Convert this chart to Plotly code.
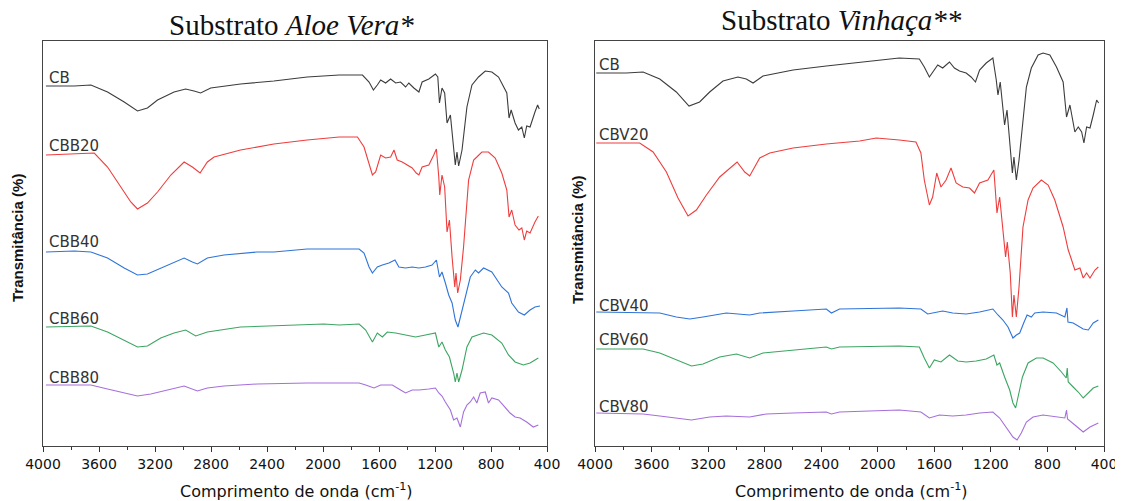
import plotly.graph_objects as go
from plotly.subplots import make_subplots

# ---------------- Data (transmittance, arbitrary offset units) ----------------
# Panel A: Substrato Aloe Vera
A_CB_wn = [3979, 3777, 3658, 3539, 3420, 3325, 3254, 3182, 3064, 2981, 2921, 2874, 2802, 2589, 2351, 2113, 1884, 1718, 1671, 1640, 1612, 1588, 1553, 1517, 1481, 1446, 1410, 1387, 1351, 1315, 1292, 1244, 1197, 1180, 1168, 1150, 1131, 1114, 1090, 1067, 1055, 1043, 1031, 1007, 972, 936, 889, 841, 794, 746, 711, 687, 671, 656, 628, 604, 580, 562, 545, 521, 486, 467, 455]
A_CB_t = [360, 360, 361, 354, 344, 335, 338, 346, 354, 357, 355, 353, 358, 362, 365, 369, 371, 371, 364, 356, 361, 366, 363, 367, 363, 364, 359, 363, 358, 354, 364, 367, 372, 369, 343, 358, 353, 323, 331, 296, 281, 294, 280, 296, 339, 361, 369, 375, 374, 369, 359, 353, 328, 336, 323, 316, 319, 308, 320, 319, 334, 341, 337]

A_20_wn = [3979, 3777, 3634, 3539, 3444, 3373, 3325, 3254, 3182, 3087, 2992, 2933, 2878, 2826, 2778, 2589, 2351, 2113, 1884, 1813, 1754, 1707, 1671, 1647, 1624, 1588, 1553, 1517, 1493, 1470, 1434, 1398, 1363, 1334, 1315, 1292, 1244, 1209, 1190, 1173, 1166, 1150, 1131, 1114, 1097, 1078, 1059, 1050, 1038, 1019, 996, 960, 924, 901, 865, 818, 770, 723, 687, 671, 652, 628, 600, 580, 562, 545, 521, 486, 462]
A_20_t = [291, 292, 293, 279, 259, 244, 237, 243, 254, 271, 284, 279, 273, 284, 289, 296, 302, 306, 309, 309, 309, 299, 283, 271, 274, 291, 288, 289, 296, 286, 284, 281, 278, 273, 271, 279, 281, 291, 297, 269, 251, 271, 259, 214, 226, 189, 159, 173, 153, 166, 199, 266, 286, 289, 294, 294, 288, 273, 256, 229, 236, 221, 216, 218, 206, 215, 213, 224, 230]

A_40_wn = [3979, 3777, 3658, 3539, 3420, 3325, 3254, 3159, 3064, 2992, 2933, 2897, 2826, 2707, 2470, 2351, 2113, 1884, 1742, 1707, 1671, 1647, 1612, 1576, 1529, 1486, 1458, 1410, 1363, 1315, 1268, 1221, 1190, 1168, 1150, 1126, 1102, 1078, 1055, 1036, 1012, 984, 948, 912, 889, 853, 794, 723, 675, 652, 604, 562, 521, 486, 450]
A_40_t = [194, 195, 194, 188, 178, 171, 172, 178, 184, 188, 184, 182, 188, 191, 194, 194, 197, 197, 197, 193, 179, 173, 179, 181, 183, 186, 179, 178, 179, 178, 179, 181, 186, 169, 174, 163, 151, 143, 126, 119, 133, 149, 169, 176, 173, 178, 174, 159, 153, 143, 134, 131, 136, 139, 140]

A_60_wn = [3979, 3658, 3539, 3420, 3325, 3254, 3159, 3064, 2981, 2909, 2826, 2589, 2351, 1994, 1884, 1742, 1695, 1647, 1612, 1576, 1541, 1481, 1410, 1339, 1268, 1197, 1173, 1150, 1126, 1097, 1067, 1055, 1043, 1031, 1007, 972, 936, 889, 853, 794, 723, 675, 628, 569, 521, 462]
A_60_t = [119, 120, 114, 106, 99, 100, 108, 113, 116, 110, 114, 119, 120, 122, 121, 122, 116, 104, 113, 109, 114, 113, 111, 109, 111, 113, 99, 104, 96, 89, 73, 64, 73, 64, 76, 99, 109, 111, 113, 111, 103, 91, 84, 81, 83, 88]

A_80_wn = [3979, 3658, 3539, 3420, 3325, 3230, 3111, 2992, 2897, 2826, 2707, 2470, 2113, 1884, 1742, 1695, 1636, 1588, 1505, 1446, 1410, 1363, 1315, 1244, 1197, 1173, 1150, 1126, 1090, 1067, 1043, 1019, 996, 972, 948, 924, 901, 877, 841, 818, 794, 746, 699, 664, 628, 592, 545, 498, 462]
A_80_t = [61, 61, 57, 53, 50, 52, 56, 60, 55, 58, 60, 62, 63, 63, 63, 61, 58, 61, 61, 56, 53, 56, 56, 57, 58, 53, 50, 44, 36, 26, 28, 19, 34, 41, 44, 49, 43, 53, 54, 43, 48, 46, 39, 33, 29, 28, 24, 19, 21]

# Panel B: Substrato Vinhaça
B_CB_wn = [3991, 3779, 3660, 3542, 3425, 3335, 3260, 3189, 3095, 2989, 2930, 2882, 2812, 2599, 2364, 2128, 1848, 1706, 1671, 1635, 1600, 1576, 1541, 1493, 1458, 1422, 1375, 1340, 1309, 1280, 1233, 1186, 1162, 1150, 1134, 1103, 1086, 1067, 1048, 1037, 1020, 1001, 977, 949, 914, 866, 831, 783, 736, 689, 665, 641, 606, 582, 558, 542, 523, 499, 476, 452, 438]
B_CB_t = [373, 373, 374, 367, 354, 340, 344, 354, 365, 369, 367, 363, 370, 376, 380, 384, 388, 387, 379, 369, 376, 381, 378, 384, 378, 375, 373, 369, 364, 376, 383, 388, 366, 351, 364, 321, 336, 306, 273, 289, 266, 286, 323, 359, 378, 391, 393, 391, 379, 364, 329, 341, 314, 319, 314, 303, 319, 318, 331, 346, 343]

B_20_wn = [3991, 3684, 3589, 3495, 3413, 3342, 3283, 3212, 3118, 2995, 2941, 2906, 2835, 2764, 2599, 2364, 2128, 2010, 1848, 1730, 1695, 1671, 1635, 1612, 1583, 1553, 1517, 1482, 1446, 1399, 1351, 1316, 1280, 1221, 1179, 1157, 1138, 1115, 1096, 1084, 1063, 1048, 1037, 1020, 1001, 973, 937, 902, 843, 795, 748, 689, 653, 636, 606, 570, 547, 523, 499, 464, 440]
B_20_t = [303, 303, 294, 274, 248, 230, 236, 251, 269, 284, 274, 270, 288, 293, 298, 302, 305, 308, 306, 304, 293, 266, 241, 249, 273, 259, 266, 278, 263, 259, 258, 253, 263, 266, 276, 233, 249, 219, 189, 204, 173, 129, 151, 129, 159, 219, 246, 258, 266, 261, 246, 219, 196, 189, 176, 178, 168, 173, 168, 176, 179]

B_40_wn = [3991, 3542, 3425, 3330, 3236, 3071, 2906, 2835, 2599, 2364, 2328, 2270, 1848, 1695, 1647, 1612, 1541, 1470, 1375, 1280, 1186, 1150, 1115, 1079, 1044, 1020, 996, 968, 944, 914, 890, 831, 736, 677, 662, 655, 618, 547, 511, 476, 440]
B_40_t = [134, 133, 129, 127, 129, 133, 131, 133, 135, 137, 133, 137, 138, 137, 132, 133, 135, 133, 132, 134, 137, 131, 126, 119, 108, 111, 113, 123, 131, 129, 133, 134, 133, 129, 138, 124, 123, 117, 116, 123, 126]

B_60_wn = [3991, 3660, 3542, 3425, 3318, 3236, 3118, 3000, 2906, 2812, 2599, 2364, 2328, 2270, 1848, 1706, 1671, 1635, 1600, 1553, 1493, 1434, 1375, 1304, 1233, 1179, 1157, 1138, 1103, 1067, 1044, 1025, 1008, 977, 937, 878, 831, 760, 701, 667, 660, 653, 618, 582, 547, 511, 476, 440]
B_60_t = [97, 97, 93, 86, 80, 82, 89, 92, 88, 93, 96, 99, 97, 99, 100, 99, 88, 78, 86, 84, 91, 85, 84, 85, 87, 91, 81, 83, 69, 56, 43, 38, 49, 69, 83, 88, 88, 83, 74, 68, 78, 64, 59, 54, 48, 53, 58, 60]

B_80_wn = [3991, 3660, 3542, 3425, 3318, 3189, 3071, 2906, 2788, 2599, 2364, 2328, 2270, 1848, 1695, 1635, 1564, 1470, 1375, 1280, 1186, 1138, 1091, 1044, 1015, 985, 949, 902, 831, 736, 677, 665, 658, 606, 547, 499, 440]
B_80_t = [33, 32, 30, 28, 26, 29, 30, 29, 32, 33, 34, 32, 34, 36, 34, 28, 31, 30, 31, 33, 34, 28, 19, 9, 6, 13, 24, 29, 31, 29, 28, 36, 27, 21, 14, 19, 23]

A_labels = ["CB", "CBB20", "CBB40", "CBB60", "CBB80"]
B_labels = ["CB", "CBV20", "CBV40", "CBV60", "CBV80"]
x_ticks = [4000, 3600, 3200, 2800, 2400, 2000, 1600, 1200, 800, 400]

colors = ["#3c3c3c", "#ef3d3d", "#2f74d8", "#3ca562", "#a66fdc"]

A_series = [(A_CB_wn, A_CB_t), (A_20_wn, A_20_t), (A_40_wn, A_40_t), (A_60_wn, A_60_t), (A_80_wn, A_80_t)]
B_series = [(B_CB_wn, B_CB_t), (B_20_wn, B_20_t), (B_40_wn, B_40_t), (B_60_wn, B_60_t), (B_80_wn, B_80_t)]

# label vertical positions (layout)
A_label_y = [368, 300, 204, 127, 68]
B_label_y = [381, 311, 140, 106, 39]

fig = make_subplots(rows=1, cols=2)

for col, series, labels in [(1, A_series, A_labels), (2, B_series, B_labels)]:
    for (wn, t), c, name in zip(series, colors, labels):
        fig.add_trace(go.Scatter(x=wn, y=t, mode="lines", name=name,
                                 line=dict(color=c, width=1.1), showlegend=False,
                                 hoverinfo="skip"), row=1, col=col)

# page body has an 8px margin: lay out in target pixel coords minus 8
OFF = 8
W, H = 1123 - OFF, 501 - OFF


def px(x):
    return (x - OFF) / W


def py(y):
    return 1 - (y - OFF) / H


xdom1 = [px(43), px(547)]
xdom2 = [px(595), px(1104)]
ydom = [py(446), py(41)]

axis_common = dict(
    range=[4000, 400], tickmode="array", tickvals=x_ticks,
    ticks="outside", ticklen=5, tickcolor="#333", tickwidth=1,
    minor=dict(dtick=200, tick0=0, ticks="outside", ticklen=3, tickcolor="#333"),
    showline=True, linecolor="#444", linewidth=1, mirror=True,
    showgrid=False, zeroline=False, automargin=False,
    tickfont=dict(family="DejaVu Sans", size=14, color="#111"),
)
fig.update_xaxes(domain=xdom1, row=1, col=1, **axis_common)
fig.update_xaxes(domain=xdom2, row=1, col=2, **axis_common)
yaxis_common = dict(range=[0, 405], domain=ydom, showline=True, linecolor="#444",
                    linewidth=1, mirror=True, showticklabels=False, ticks="",
                    showgrid=False, zeroline=False, automargin=False)
fig.update_yaxes(row=1, col=1, **yaxis_common)
fig.update_yaxes(row=1, col=2, **yaxis_common)

ann = []
# curve labels
for lab, yv in zip(A_labels, A_label_y):
    ann.append(dict(x=3975, y=yv, xref="x", yref="y", text=lab, showarrow=False,
                    xanchor="left", yanchor="middle",
                    font=dict(family="DejaVu Sans", size=15, color="#333")))
for lab, yv in zip(B_labels, B_label_y):
    ann.append(dict(x=3988, y=yv, xref="x2", yref="y2", text=lab, showarrow=False,
                    xanchor="left", yanchor="middle",
                    font=dict(family="DejaVu Sans", size=15, color="#333")))
# titles
ann.append(dict(x=px(291), y=py(25), xref="paper", yref="paper",
                text="Substrato <i>Aloe Vera*</i>", showarrow=False,
                xanchor="center", yanchor="middle",
                font=dict(family="Liberation Serif", size=29, color="#111")))
ann.append(dict(x=px(841), y=py(20), xref="paper", yref="paper",
                text="Substrato <i>Vinhaça**</i>", showarrow=False,
                xanchor="center", yanchor="middle",
                font=dict(family="Liberation Serif", size=29, color="#111")))
# axis titles
for xc in [296, 851]:
    ann.append(dict(x=px(xc), y=py(490), xref="paper", yref="paper",
                    text="Comprimento de onda (cm<sup>-1</sup>)", showarrow=False,
                    xanchor="center", yanchor="middle",
                    font=dict(family="DejaVu Sans", size=16, color="#111")))
for xc, yc in [(18, 238), (577, 240)]:
    ann.append(dict(x=px(xc), y=py(yc), xref="paper", yref="paper",
                    text="<b>Transmitância (%)</b>", showarrow=False, textangle=-90,
                    xanchor="center", yanchor="middle",
                    font=dict(family="Liberation Sans", size=15, color="#111")))

fig.update_layout(width=W, height=H, margin=dict(l=0, r=0, t=0, b=0, autoexpand=False),
                  paper_bgcolor="white", plot_bgcolor="white", annotations=ann)

fig.write_html("out.html")
